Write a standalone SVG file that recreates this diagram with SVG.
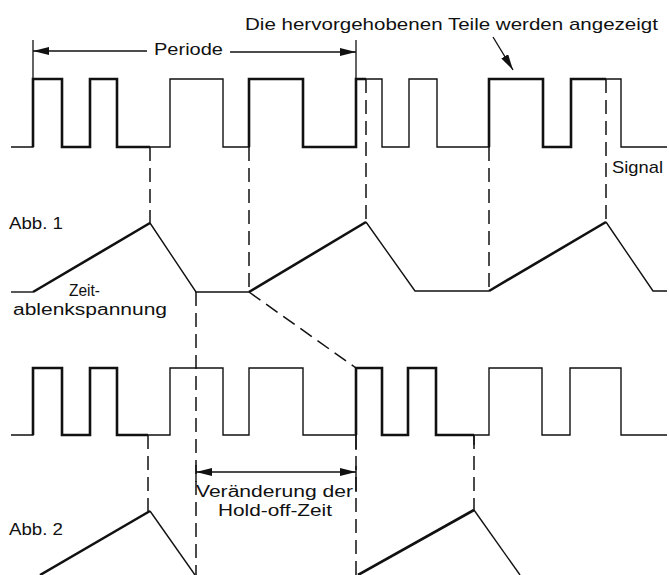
<svg xmlns="http://www.w3.org/2000/svg" width="669" height="575" viewBox="0 0 669 575">
<defs>
<marker id="ah" viewBox="0 0 16 8" refX="16" refY="4" markerWidth="16" markerHeight="8" markerUnits="userSpaceOnUse" orient="auto-start-reverse">
<path d="M0,0 L16,4 L0,8 z" fill="#111"/>
</marker>
<style>
.thin{fill:none;stroke:#111;stroke-width:1.4;stroke-linejoin:miter;stroke-linecap:butt}
.bold{fill:none;stroke:#111;stroke-width:2.6;stroke-linejoin:miter;stroke-linecap:butt}
.dash{fill:none;stroke:#111;stroke-width:1.5;stroke-dasharray:14 7}
.arr{fill:none;stroke:#111;stroke-width:1.3}
text{font-family:"Liberation Sans",Arial,Helvetica,sans-serif;font-size:17px;fill:#111}
.sm{font-size:16px}
</style>
</defs>
<rect width="669" height="575" fill="#fff"/>

<g id="signal1">
<path class="thin" d="M11,147 H33 V79 H62 V147 H90 V79 H117 V147 H170 V79 H223 V147 H249 V79 H303 V147 H356 V79 H382 V147 H409 V79 H437 V147 H489 V79 H543 V147 H571 V79 H621 V147 H667"/>
<path class="bold" d="M33,147 V79 H62 V147 H90 V79 H117 V147 H150"/>
<path class="bold" d="M249,147 V79 H303 V147 H356 V79 H366"/>
<path class="bold" d="M489,147 V79 H543 V147 H571 V79 H606"/>
</g>

<g id="ramp1">
<path class="thin" d="M11,292 H33"/>
<path class="bold" d="M33,292 L150,223"/>
<path class="thin" d="M150,223 L196,292 H249"/>
<path class="bold" d="M249,292 L366,222"/>
<path class="thin" d="M366,222 L415,291 H489"/>
<path class="bold" d="M489,291 L606,222"/>
<path class="thin" d="M606,222 L653,291 H667"/>
</g>

<g id="signal2">
<path class="thin" d="M11,435 H33 V368 H62 V435 H90 V368 H117 V435 H170 V368 H223 V435 H249 V368 H303 V435 H356 V368 H382 V435 H408 V368 H436 V435 H489 V368 H542 V435 H570 V368 H621 V435 H667"/>
<path class="bold" d="M33,435 V368 H62 V435 H90 V368 H117 V435 H148"/>
<path class="bold" d="M356,435 V368 H382 V435 H408 V368 H436 V435 H474"/>
</g>

<g id="ramp2">
<path class="bold" d="M40,575 L150,511"/>
<path class="thin" d="M150,511 L195,575"/>
<path class="bold" d="M358,575 L474,510"/>
<path class="thin" d="M474,510 L520,575"/>
</g>

<g id="connectors">
<path class="dash" d="M150,147 V223"/>
<path class="dash" d="M249,147 V292"/>
<path class="dash" d="M366,79 V222"/>
<path class="dash" d="M489,147 V291"/>
<path class="dash" d="M606,79 V222"/>
<path class="dash" d="M196,292 V575"/>
<path class="dash" d="M249,292 L356,368"/>
<path class="dash" d="M148,435 V511"/>
<path class="dash" d="M474,435 V510"/>
<path class="dash" d="M356,435 V575"/>
<path class="thin" d="M196,465 V482 M356,466 V492 M356,435 V450 M474,435 V445"/>
<path class="arr" d="M33,40 V79 M356,40 V79"/>
<path class="arr" d="M147,51 H33" marker-end="url(#ah)"/>
<path class="arr" d="M230,52 H356" marker-end="url(#ah)"/>
<path class="arr" d="M196,472 H356" marker-start="url(#ah)" marker-end="url(#ah)"/>
<path class="arr" d="M493,37 L513,70" marker-end="url(#ah)"/>
</g>

<g id="labels">
<text x="245" y="30" textLength="413" lengthAdjust="spacingAndGlyphs">Die hervorgehobenen Teile werden angezeigt</text>
<text x="154" y="55" textLength="69" lengthAdjust="spacingAndGlyphs">Periode</text>
<text x="612" y="173" textLength="51" lengthAdjust="spacingAndGlyphs">Signal</text>
<text x="9" y="229" textLength="54" lengthAdjust="spacingAndGlyphs">Abb. 1</text>
<text x="69" y="296" textLength="31" lengthAdjust="spacingAndGlyphs">Zeit-</text>
<text class="sm" x="13" y="315" textLength="154" lengthAdjust="spacingAndGlyphs">ablenkspannung</text>
<text x="9" y="535" textLength="54" lengthAdjust="spacingAndGlyphs">Abb. 2</text>
<text class="sm" x="196" y="497" textLength="157" lengthAdjust="spacingAndGlyphs">Veränderung der</text>
<text class="sm" x="218" y="516" textLength="114" lengthAdjust="spacingAndGlyphs">Hold-off-Zeit</text>
</g>
</svg>
